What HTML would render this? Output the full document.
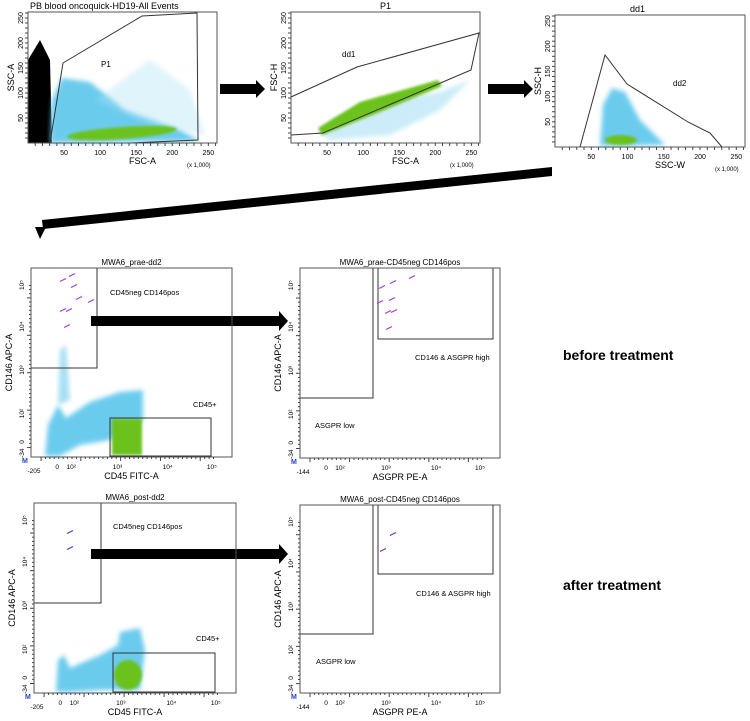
<!DOCTYPE html>
<html><head><meta charset="utf-8"><style>
body{margin:0;background:#fff;}
svg{display:block;font-family:"Liberation Sans",sans-serif;}
</style></head><body>
<svg id="fig" width="750" height="721" viewBox="0 0 750 721" xmlns="http://www.w3.org/2000/svg">
<defs><filter id="bl" x="-20%" y="-20%" width="140%" height="140%"><feGaussianBlur stdDeviation="2.5"/></filter>
<filter id="bl2"><feGaussianBlur stdDeviation="1.2"/></filter></defs>

<g>
<polygon points="28,143 28,60 40,40 50,60 52,143" fill="#000"/>
<polygon points="50,143 52,100 62,78 90,82 125,110 180,130 200,141" fill="#5cc6ec" filter="url(#bl)" opacity="0.9"/>
<polygon points="95,100 150,60 190,90 205,135 150,125" fill="#a9e0f4" filter="url(#bl)" opacity="0.35"/>
<ellipse cx="122" cy="133" rx="55" ry="6" transform="rotate(-4 122 133)" fill="#6cc21c" filter="url(#bl2)"/>
<polyline points="50,143 63,63 142,16 197,13 198,140 130,143" fill="none" stroke="#333" stroke-width="1"/>
<text x="101" y="67" font-size="8">P1</text>
</g>
<g>
<polygon points="318,133 335,118 390,100 440,92 470,80 440,110 390,135 330,140" fill="#a9e0f4" filter="url(#bl)" opacity="0.6"/>
<polygon points="318,128 360,102 438,80 442,86 380,112 322,135" fill="#6cc21c" filter="url(#bl2)"/>
<polyline points="291,97 357,67 479,33 471,70 323,133 291,135" fill="none" stroke="#333" stroke-width="1"/>
<text x="342" y="57" font-size="8">dd1</text>
</g>
<g>
<polygon points="600,146 603,105 612,88 625,92 640,120 665,145" fill="#5cc6ec" filter="url(#bl)" opacity="0.9"/>
<ellipse cx="621" cy="140" rx="16" ry="5" fill="#6cc21c" filter="url(#bl2)"/>
<polyline points="580,147 605,55 627,84 688,122 710,133 722,147" fill="none" stroke="#333" stroke-width="1"/>
<text x="673" y="86" font-size="8">dd2</text>
</g>
<g>
<polygon points="45,456 48,425 58,405 66,418 90,402 120,392 143,390 143,420 110,440 80,445 60,456" fill="#5cc6ec" filter="url(#bl)" opacity="0.9"/>
<polygon points="58,405 60,350 66,345 70,400" fill="#a9e0f4" filter="url(#bl)"/>
<rect x="112" y="419" width="30" height="36" fill="#6cc21c" filter="url(#bl2)"/>
<rect x="31" y="268" width="66" height="100" fill="none" stroke="#333"/>
<rect x="110" y="418" width="101" height="38" fill="none" stroke="#333"/>
<text x="110" y="295" font-size="7.5">CD45neg CD146pos</text>
<text x="193" y="407" font-size="7.5">CD45+</text>
</g>
<g>
<rect x="300" y="268" width="73" height="130" fill="none" stroke="#333"/>
<polyline points="378,268 378,339 493,339 493,268" fill="none" stroke="#333"/>
<text x="415" y="360" font-size="7.5">CD146 &amp; ASGPR high</text>
<text x="315" y="428" font-size="7.5">ASGPR low</text>
</g>
<g>
<polygon points="56,692 58,660 64,655 70,668 100,655 118,645 120,632 140,628 145,650 140,690 100,690 70,692" fill="#5cc6ec" filter="url(#bl)" opacity="0.9"/>
<ellipse cx="128" cy="675" rx="14" ry="15" fill="#6cc21c" filter="url(#bl2)"/>
<rect x="34" y="503" width="67" height="100" fill="none" stroke="#333"/>
<rect x="113" y="653" width="102" height="39" fill="none" stroke="#333"/>
<text x="113" y="529" font-size="7.5">CD45neg CD146pos</text>
<text x="196" y="641" font-size="7.5">CD45+</text>
</g>
<g>
<rect x="300" y="505" width="73" height="129" fill="none" stroke="#333"/>
<polyline points="378,505 378,574 493,574 493,505" fill="none" stroke="#333"/>
<text x="416" y="596" font-size="7.5">CD146 &amp; ASGPR high</text>
<text x="316" y="664" font-size="7.5">ASGPR low</text>
</g>

<g fill="#000">
<polygon points="220,84 256,84 256,80 265,89 256,98 256,94 220,94"/>
<polygon points="488,84 524,84 524,80 533,89 524,98 524,94 488,94"/>
<polygon points="552,167 552,176 43,229 42,220"/>
<polygon points="35,227 46,227 40,239"/>
<polygon points="91,316 279,316 279,311 288,321 279,331 279,326 91,326"/>
<polygon points="91,549 279,549 279,544 288,554 279,564 279,559 91,559"/>
</g>
<text x="563" y="360" font-size="14" font-weight="bold">before treatment</text>
<text x="563" y="590" font-size="14" font-weight="bold">after treatment</text>
<g id="axes"></g>
</svg>
<script>
const linTicks = [50, 100, 150, 200, 250];
const logTickLabelsX = ["0", "10²", "10³", "10⁴", "10⁵"];
const logTickLabelsY = ["-34", "0", "10²", "10³", "10⁴", "10⁵"];
const praeAX = [63, 72, 74, 79, 91, 63, 69, 67];
const praeAY = [280, 275, 286, 298, 301, 310, 310, 326];
const praeBX = [382, 393, 412, 380, 392, 388, 394, 389];
const praeBY = [287, 282, 277, 302, 299, 312, 311, 328];
const postX = [70, 70, 393, 383];
const postY = [532, 548, 534, 550];

const NS = "http://www.w3.org/2000/svg";
const axes = document.getElementById('axes');
function mk(tag, attrs, txt){const e=document.createElementNS(NS,tag);for(const k in attrs)e.setAttribute(k,attrs[k]);if(txt!==undefined)e.textContent=txt;axes.appendChild(e);return e;}

const linPanels = [
 {x0:28,x1:217,y0:12,y1:143,title:"PB blood oncoquick-HD19-All Events",tx:30,xl:"FSC-A",yl:"SSC-A"},
 {x0:291,x1:480,y0:12,y1:143,title:"P1",tx:380,xl:"FSC-A",yl:"FSC-H"},
 {x0:555,x1:745,y0:15,y1:147,title:"dd1",tx:630,xl:"SSC-W",yl:"SSC-H"}
];
linPanels.forEach((p,i)=>{
  let r=mk('rect',{x:p.x0,y:p.y0,width:p.x1-p.x0,height:p.y1-p.y0,fill:'none',stroke:'#555'});
  
  
  let t=mk('text',{x:p.tx,y:p.y0-3,'font-size':9},p.title);
  
  
  const sx=v=>p.x0+v/262*(p.x1-p.x0), sy=v=>p.y1-v/262*(p.y1-p.y0);
  for(let v=10;v<=260;v+=10){mk('line',{x1:sx(v),x2:sx(v),y1:p.y1,y2:p.y1+3,stroke:'#444'});mk('line',{x1:p.x0-3,x2:p.x0,y1:sy(v),y2:sy(v),stroke:'#444'});}
  linTicks.forEach(v=>{
    let a=mk('text',{x:sx(v),y:p.y1+12,'font-size':7,'text-anchor':'middle'},v);
    
    
    let b=mk('text',{x:p.x0-5,y:sy(v),'font-size':7,'text-anchor':'middle',transform:`rotate(-90 ${p.x0-5} ${sy(v)})`},v);
    
    
  });
  let xl=mk('text',{x:(p.x0+p.x1)/2+20,y:p.y1+21,'font-size':9,'text-anchor':'middle'},p.xl);
  
  
  let yl=mk('text',{x:p.x0-14,y:(p.y0+p.y1)/2,'font-size':9,'text-anchor':'middle',transform:`rotate(-90 ${p.x0-14} ${(p.y0+p.y1)/2})`},p.yl);
  
  
  let u=mk('text',{x:p.x1-30,y:p.y1+24,'font-size':6},"(x 1,000)");
  
  
});

const logPanels = [
 {x0:31,x1:232,y0:268,y1:457,title:"MWA6_prae-dd2",xl:"CD45 FITC-A",neg:"-205"},
 {x0:300,x1:500,y0:268,y1:458,title:"MWA6_prae-CD45neg CD146pos",xl:"ASGPR PE-A",neg:"-144"},
 {x0:34,x1:236,y0:503,y1:693,title:"MWA6_post-dd2",xl:"CD45 FITC-A",neg:"-205"},
 {x0:300,x1:500,y0:505,y1:693,title:"MWA6_post-CD45neg CD146pos",xl:"ASGPR PE-A",neg:"-144"}
];
const xFrac=[0.13,0.2,0.43,0.68,0.9], yFrac=[0.02,0.08,0.23,0.46,0.69,0.91];
logPanels.forEach(p=>{
  const W=p.x1-p.x0,H=p.y1-p.y0;
  let r=mk('rect',{x:p.x0,y:p.y0,width:W,height:H,fill:'none',stroke:'#555'});
  
  
  let t=mk('text',{x:p.x0+W/2,y:p.y0-3,'font-size':8,'text-anchor':'middle'},p.title);
  
  
  for(let k=0;k<40;k++){const fx=p.x0+W*(0.05+k*0.022);mk('line',{x1:fx,x2:fx,y1:p.y1,y2:p.y1+(k%9==0?4:2),stroke:'#444'});const fy=p.y1-H*(0.05+k*0.022);mk('line',{x1:p.x0-(k%9==0?4:2),x2:p.x0,y1:fy,y2:fy,stroke:'#444'});}
  logTickLabelsX.forEach((s,i)=>{let a=mk('text',{x:p.x0+W*xFrac[i],y:p.y1+12,'font-size':6.5,'text-anchor':'middle'},s);
    
    });
  let n=mk('text',{x:p.x0+3,y:p.y1+16,'font-size':6.5,'text-anchor':'middle'},p.neg);
  
  
  logTickLabelsY.forEach((s,i)=>{const yy=p.y1-H*yFrac[i];let b=mk('text',{x:p.x0-7,y:yy,'font-size':6.5,'text-anchor':'middle',transform:`rotate(-90 ${p.x0-7} ${yy})`},s);
    
    });
  let m=mk('text',{x:p.x0-9,y:p.y1+6,'font-size':7,fill:'#2244cc','font-weight':'bold'},"M");
  
  
  let xl=mk('text',{x:p.x0+W/2,y:p.y1+22,'font-size':9,'text-anchor':'middle'},p.xl);
  
  
  const yc=(p.y0+p.y1)/2;
  let yl=mk('text',{x:p.x0-19,y:yc,'font-size':9,'text-anchor':'middle',transform:`rotate(-90 ${p.x0-19} ${yc})`},"CD146 APC-A");
  
  
});
function marks(xs,ys,col){
  xs.forEach((x,i)=>{
    let l=mk('line',{x1:x-3,y1:ys[i]+1.5,x2:x+3,y2:ys[i]-1.5,stroke:col,'stroke-width':1.2});
    
    
  });
}
marks(praeAX,praeAY,'#a040d0');
marks(praeBX,praeBY,'#a040d0');
marks(postX,postY,'#7030c0');
</script>
</body></html>
